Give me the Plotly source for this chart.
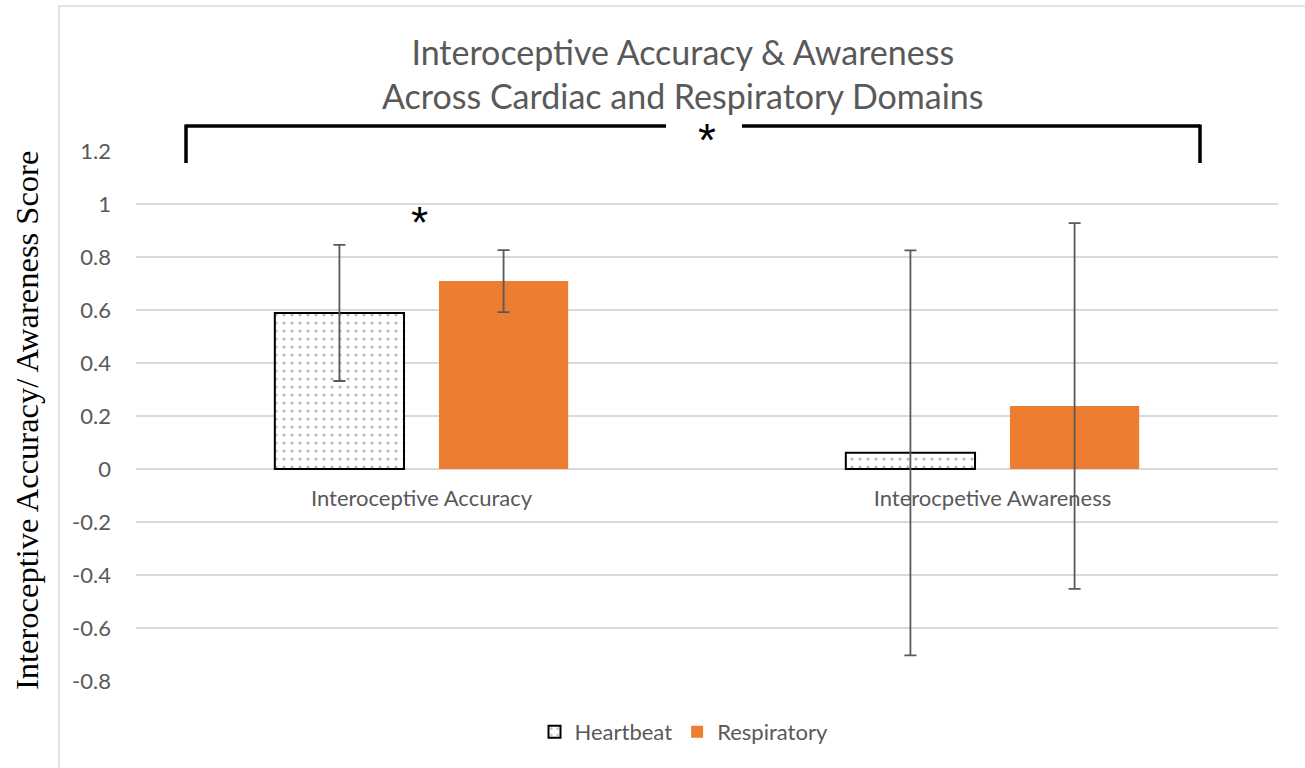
import plotly.graph_objects as go

categories = ["Interoceptive Accuracy", "Interocpetive Awareness"]
heartbeat = [0.589, 0.061]
heartbeat_err = [0.257, 0.764]
respiratory = [0.709, 0.238]
respiratory_err = [0.117, 0.690]
y_ticks = [-0.8, -0.6, -0.4, -0.2, 0, 0.2, 0.4, 0.6, 0.8, 1, 1.2]
y_tick_labels = ["-0.8", "-0.6", "-0.4", "-0.2", "0", "0.2", "0.4", "0.6", "0.8", "1", "1.2"]

W, H = 1305, 768
L, R, T, B = 136, 1278, 151, 681
pw, ph = R - L, B - T


def px(x):
    return (x - L) / pw


def py(y):
    return (B - y) / ph


GRAY = "#595959"
FONT = "Lato"

fig = go.Figure()
fig.add_trace(go.Bar(
    name="Heartbeat", x=categories, y=heartbeat,
    marker=dict(color="white", line=dict(color="black", width=2),
                pattern=dict(shape=".", fgcolor="#707070", bgcolor="white", size=8, solidity=0.12)),
    error_y=dict(type="data", array=heartbeat_err, color=GRAY, thickness=1.8, width=6),
))
fig.add_trace(go.Bar(
    name="Respiratory", x=categories, y=respiratory,
    marker=dict(color="#ED7D31", line=dict(color="#ED7D31", width=0)),
    error_y=dict(type="data", array=respiratory_err, color=GRAY, thickness=1.8, width=6),
))

shapes = []
# chart-area border
shapes.append(dict(type="rect", xref="paper", yref="paper", x0=px(59), x1=px(1320), y0=py(6), y1=py(790),
                   line=dict(color="#D9D9D9", width=1.5), fillcolor="rgba(0,0,0,0)", layer="below"))
# significance bracket
blk = dict(color="black", width=3.5)
shapes.append(dict(type="line", xref="paper", yref="paper", x0=px(186), x1=px(666), y0=py(126), y1=py(126), line=blk))
shapes.append(dict(type="line", xref="paper", yref="paper", x0=px(742), x1=px(1200), y0=py(126), y1=py(126), line=blk))
shapes.append(dict(type="line", xref="paper", yref="paper", x0=px(186), x1=px(186), y0=py(124.5), y1=py(163), line=blk))
shapes.append(dict(type="line", xref="paper", yref="paper", x0=px(1200), x1=px(1200), y0=py(124.5), y1=py(163), line=blk))

annotations = [
    dict(text="*", xref="paper", yref="paper", x=px(707), y=py(140), showarrow=False,
         font=dict(family="Liberation Sans", size=46, color="black"), xanchor="center", yanchor="middle"),
    dict(text="*", xref="paper", yref="paper", x=px(419), y=py(222), showarrow=False,
         font=dict(family="Liberation Sans", size=44, color="black"), xanchor="center", yanchor="middle"),
    dict(text="Interoceptive Accuracy/ Awareness Score", xref="paper", yref="paper", x=px(27), y=py(421),
         textangle=-90, showarrow=False, font=dict(family="Liberation Serif", size=32.5, color="black"),
         xanchor="center", yanchor="middle"),
    dict(text="Interoceptive Accuracy & Awareness<br>Across Cardiac and Respiratory Domains",
         xref="paper", yref="paper", x=px(682.5), y=py(73), showarrow=False,
         font=dict(family=FONT, size=34, color=GRAY), xanchor="center", yanchor="middle"),
]

fig.update_layout(
    width=W, height=H,
    margin=dict(l=L, r=W - R, t=T, b=H - B),
    paper_bgcolor="white", plot_bgcolor="white",
    barmode="group", bargap=0.425, bargroupgap=0.213,
    showlegend=True,
    legend=dict(orientation="h", x=px(684), y=py(732), xanchor="center", yanchor="middle",
                font=dict(family=FONT, size=22, color=GRAY), itemwidth=30, traceorder="normal"),
    shapes=shapes, annotations=annotations,
    xaxis=dict(anchor="free", position=py(469), showline=False, showgrid=False, zeroline=False,
               ticks="", tickfont=dict(family=FONT, size=22, color=GRAY), ticklabelstandoff=14),
    yaxis=dict(range=[-0.8, 1.2], tickvals=y_ticks, ticktext=y_tick_labels, showgrid=True,
               gridcolor="#D9D9D9", gridwidth=1.5, zeroline=True, zerolinecolor="#D9D9D9", zerolinewidth=1.5,
               showline=False, ticks="", tickfont=dict(family=FONT, size=22, color=GRAY), ticklabelstandoff=24),
)

fig.write_html("out.html", config={"displayModeBar": False},
               post_script="document.body.style.margin='0';")
